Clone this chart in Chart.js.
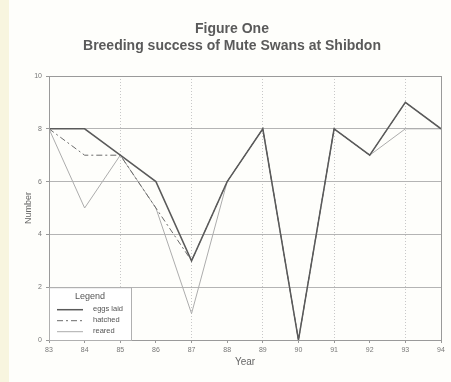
<!DOCTYPE html>
<html>
<head>
    <meta charset="utf-8">
    <script src="https://cdn.jsdelivr.net/npm/chart.js@4.4.0/dist/chart.umd.min.js"></script>
    <style>
        html, body { margin: 0; padding: 0; background: #fefefb; }
        #wrap { width: 451px; height: 382px; position: relative; }
        #strip { position: absolute; left: 0; top: 0; width: 9px; height: 382px; background: #f8f5df; }
        canvas { position: relative; }
    </style>
</head>
<body>
    <div id="wrap">
        <div id="strip"></div>
        <canvas id="swanChart" width="451" height="382" style="position:absolute;left:0;top:0"></canvas>
    </div>
    <script>
        const years = [83, 84, 85, 86, 87, 88, 89, 90, 91, 92, 93, 94];
        const eggsLaid = [8, 8, 7, 6, 3, 6, 8, 0, 8, 7, 9, 8];
        const hatched = [8, 7, 7, 5, 3, 6, 8, 0, 8, 7, 9, 8];
        const reared = [8, 5, 7, 5, 1, 6, 8, 0, 8, 7, 8, 8];
        const seriesNames = ['eggs laid', 'hatched', 'reared'];

        function toPoints(values) {
            return years.map((y, i) => ({ x: y, y: values[i] }));
        }

        // frame round the plot + boxed legend in lower left
        const framePlugin = {
            id: 'frame',
            afterDraw(chart) {
                const c = chart.ctx, a = chart.chartArea;
                c.save();
                c.strokeStyle = '#9a9a9a';
                c.lineWidth = 1;
                c.strokeRect(a.left + 0.5, a.top + 0.5, a.right - a.left, a.bottom - a.top);

                const ys = chart.scales.y;
                const bx = a.left, by = ys.getPixelForValue(2);
                const bw = 82, bh = a.bottom - by;
                c.fillStyle = '#ffffff';
                c.fillRect(bx + 1, by + 1, bw, bh - 1);
                c.strokeStyle = '#b0b0b0';
                c.strokeRect(bx + 0.5, by + 0.5, bw, bh);

                c.fillStyle = '#555';
                c.font = '9px "Liberation Sans", Arial, sans-serif';
                c.textAlign = 'center';
                c.textBaseline = 'middle';
                c.fillText('Legend', bx + 41, by + 9);

                const ds = chart.data.datasets;
                c.textAlign = 'left';
                c.font = '7.5px "Liberation Sans", Arial, sans-serif';
                for (let i = 0; i < ds.length; i++) {
                    const ly = by + 22 + i * 11;
                    c.beginPath();
                    c.setLineDash(ds[i].borderDash || []);
                    c.strokeStyle = ds[i].borderColor;
                    c.lineWidth = ds[i].borderWidth;
                    c.moveTo(bx + 8, ly + 0.5);
                    c.lineTo(bx + 34, ly + 0.5);
                    c.stroke();
                    c.setLineDash([]);
                    c.fillStyle = '#555';
                    c.fillText(seriesNames[i], bx + 44, ly);
                }
                c.restore();
            }
        };

        const ctx = document.getElementById('swanChart').getContext('2d');
        const swanChart = new Chart(ctx, {
            type: 'line',
            data: {
                datasets: [
                    {
                        label: seriesNames[0],
                        data: toPoints(eggsLaid),
                        borderColor: '#5a5a5a',
                        borderWidth: 1.5,
                        pointRadius: 0,
                        tension: 0
                    },
                    {
                        label: seriesNames[1],
                        data: toPoints(hatched),
                        borderColor: '#6a6a6a',
                        borderWidth: 1,
                        borderDash: [6, 3, 2, 3],
                        pointRadius: 0,
                        tension: 0
                    },
                    {
                        label: seriesNames[2],
                        data: toPoints(reared),
                        borderColor: '#acacac',
                        borderWidth: 1,
                        pointRadius: 0,
                        tension: 0
                    }
                ]
            },
            options: {
                responsive: false,
                animation: false,
                layout: { padding: { left: 23, right: 10, top: 0, bottom: 14 } },
                plugins: {
                    legend: { display: false },
                    tooltip: { enabled: false },
                    title: {
                        display: true,
                        text: ['Figure One', 'Breeding success of Mute Swans at Shibdon'],
                        color: '#5a5a5a',
                        font: { family: '"Liberation Sans", Arial, sans-serif', size: 14, weight: 'bold', lineHeight: 1.25 },
                        padding: { top: 20, bottom: 21 }
                    }
                },
                scales: {
                    x: {
                        type: 'linear',
                        min: 83,
                        max: 94,
                        ticks: {
                            stepSize: 1,
                            color: '#777',
                            font: { family: '"Liberation Sans", Arial, sans-serif', size: 7 },
                            padding: 3
                        },
                        grid: {
                            color: (c) => (c.tick && c.tick.value % 2 === 1) ? '#c8c8c8' : 'rgba(0,0,0,0)',
                            tickColor: '#999',
                            tickLength: 3
                        },
                        border: { display: false, dash: [1, 2] },
                        title: {
                            display: true,
                            text: 'Year',
                            color: '#666',
                            font: { family: '"Liberation Sans", Arial, sans-serif', size: 10 },
                            padding: { top: 0, bottom: 0 }
                        },
                        afterFit(scale) { scale.height = 28; }
                    },
                    y: {
                        min: 0,
                        max: 10,
                        ticks: {
                            stepSize: 2,
                            color: '#777',
                            font: { family: '"Liberation Sans", Arial, sans-serif', size: 7 },
                            padding: 4
                        },
                        grid: {
                            color: '#b4b4b4',
                            tickColor: '#999',
                            tickLength: 3
                        },
                        border: { display: false },
                        title: {
                            display: true,
                            text: 'Number',
                            color: '#666',
                            font: { family: '"Liberation Sans", Arial, sans-serif', size: 9 },
                            padding: { top: 0, bottom: 0 }
                        },
                        afterFit(scale) { scale.width = 26; }
                    }
                }
            },
            plugins: [framePlugin]
        });
    </script>
</body>
</html>
